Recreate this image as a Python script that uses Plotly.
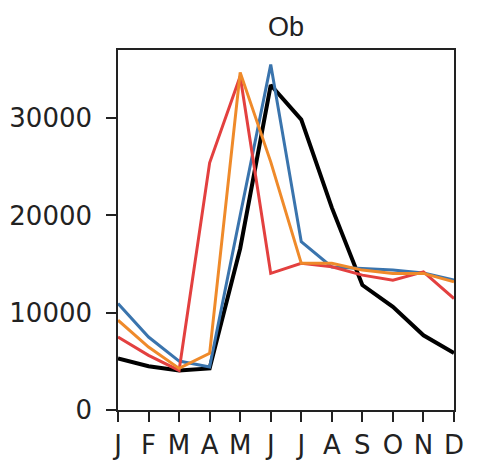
import plotly.graph_objects as go

months = ["J", "F", "M", "A", "M", "J", "J", "A", "S", "O", "N", "D"]
obs = [5300, 4500, 4070, 4270, 16600, 33400, 29850, 20800, 12840, 10600, 7680, 5860]
blue_vals = [10950, 7500, 5030, 4410, 20000, 35500, 17300, 14700, 14550, 14380, 14070, 13350]
red_vals = [7500, 5620, 4070, 25400, 34300, 14040, 15070, 14720, 13860, 13350, 14200, 11460]
orange_vals = [9230, 6470, 4280, 5820, 34700, 25500, 15070, 15070, 14380, 14040, 14040, 13180]
yticks = [0, 10000, 20000, 30000]

x = list(range(12))
fig = go.Figure()
fig.add_trace(go.Scatter(x=x, y=obs, mode="lines", line=dict(color="black", width=4)))
fig.add_trace(go.Scatter(x=x, y=blue_vals, mode="lines", line=dict(color="#3a74ad", width=3)))
fig.add_trace(go.Scatter(x=x, y=red_vals, mode="lines", line=dict(color="#e3403f", width=3)))
fig.add_trace(go.Scatter(x=x, y=orange_vals, mode="lines", line=dict(color="#ef8a2a", width=3)))

axis_common = dict(showline=True, linecolor="#222", linewidth=1.5, mirror=True,
                   ticks="outside", ticklen=10, tickwidth=1.5, tickcolor="#222",
                   showgrid=False, zeroline=False,
                   tickfont=dict(family="DejaVu Sans", size=26, color="#222"))
fig.update_xaxes(range=[0, 11], tickmode="array", tickvals=x, ticktext=months,
                 ticklabelstandoff=1, **axis_common)
fig.update_yaxes(range=[0, 37000], tickmode="array", tickvals=yticks,
                 ticktext=[str(v) for v in yticks], ticklabelstandoff=9, **axis_common)
# page body has an 8px margin, so the figure is offset by 8px
fig.update_layout(width=473, height=452, showlegend=False,
                  margin=dict(l=110, r=27, t=42, b=50, autoexpand=False),
                  plot_bgcolor="white", paper_bgcolor="white",
                  title=dict(text="Ob", x=(286 - 8) / 473, xanchor="center",
                             y=1 - 19 / 452, yanchor="middle",
                             font=dict(family="Liberation Sans", size=27, color="#222")))
fig.write_html("out.html")
